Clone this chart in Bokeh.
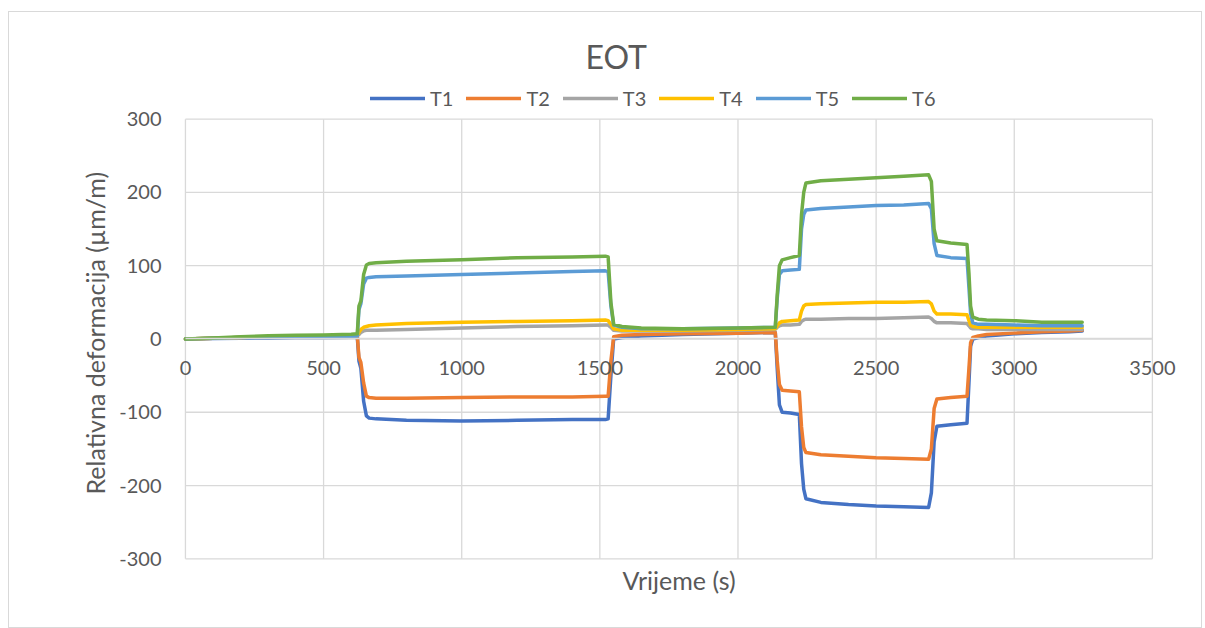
from bokeh.plotting import figure
from bokeh.models import Range1d, FixedTicker, Legend, LegendItem, Title, PrintfTickFormatter
from bokeh.embed import file_html
from bokeh.resources import INLINE

# ---------------- data ----------------
time_s = [0, 100, 200, 300, 400, 500, 600,
          622, 628, 635, 645, 655, 665, 690,
          800, 1000, 1200, 1400, 1520, 1530, 1540, 1550, 1580, 1650, 1800, 2000,
          2135, 2142, 2150, 2160, 2190, 2222, 2230, 2238, 2246,
          2300, 2400, 2500, 2600, 2690, 2700, 2710, 2720, 2770,
          2829, 2836, 2842, 2850, 2870, 2900, 3000, 3100, 3200, 3246]

T1 = [0, 0.5, 1, 1.5, 2, 2, 2.5,
      3, -30, -40, -85, -105, -108, -109,
      -111, -112, -111, -110, -110, -109, -50, 0, 2, 4, 6, 8,
      9, -40, -90, -100, -101, -103, -170, -205, -218,
      -223, -226, -228, -229, -230, -210, -140, -119, -117,
      -115, -60, -10, 0, 2, 4, 7, 9, 10, 11]

T2 = [0, 1, 2, 3, 3.5, 4, 4.5,
      5, -25, -32, -60, -78, -80, -81,
      -81, -80, -79, -79, -78, -78, -30, 3, 5, 6, 7, 8,
      9, -30, -62, -70, -71, -72, -120, -148, -155,
      -158, -160, -162, -163, -164, -150, -95, -82, -80,
      -78, -40, -5, 2, 4, 6, 8, 10, 11, 12]

T3 = [0, 1, 2, 3, 3.5, 4, 4.5,
      5, 6, 9, 11, 12, 12, 12,
      13, 15, 17, 18, 19, 19, 16, 12, 11, 11, 11, 12,
      13, 16, 18, 19, 19, 20, 24, 26, 27,
      27, 28, 28, 29, 30, 28, 24, 22, 22,
      21, 18, 15, 14, 14, 13, 13, 13, 13, 13]

T4 = [0, 1, 2, 3, 3.5, 4, 4.5,
      5, 9, 13, 16, 17, 18, 19,
      21, 23, 24, 25, 26, 25, 20, 14, 12, 12, 12, 13,
      14, 18, 22, 24, 25, 26, 38, 45, 47,
      48, 49, 50, 50, 51, 48, 38, 34, 34,
      33, 25, 19, 17, 16, 16, 16, 16, 16, 16]

T5 = [0, 1, 2, 2.5, 3, 3, 3.5,
      4, 40, 48, 75, 83, 84, 85,
      86, 88, 90, 92, 93, 92, 45, 19, 16, 14, 14, 15,
      16, 55, 88, 93, 94, 95, 150, 170, 176,
      178, 180, 182, 183, 185, 178, 130, 114, 111,
      110, 70, 35, 22, 20, 20, 19, 18, 18, 18]

T6 = [0, 1.5, 3, 4.5, 5, 5.5, 6.5,
      7, 45, 52, 88, 101, 103, 104,
      106, 108, 111, 112, 113, 112, 50, 20, 17, 15, 14, 15,
      16, 60, 100, 108, 111, 114, 170, 200, 213,
      216, 218, 220, 222, 224, 215, 150, 134, 131,
      129, 90, 45, 30, 27, 26, 25, 23, 23, 23]

series_names = ["T1", "T2", "T3", "T4", "T5", "T6"]
series_values = [T1, T2, T3, T4, T5, T6]
series_colors = ["#4472C4", "#ED7D31", "#A5A5A5", "#FFC000", "#5B9BD5", "#70AD47"]

x_ticks = [0, 500, 1000, 1500, 2000, 2500, 3000, 3500]
y_ticks = [-300, -200, -100, 0, 100, 200, 300]

chart_title = "EOT"
x_label = "Vrijeme (s)"
y_label = "Relativna deformacija (µm/m)"

# ---------------- figure ----------------
FONT = "Lato"
TXT = "#595959"
GRID = "#d9d9d9"

x_lo, x_hi = x_ticks[0], x_ticks[-1]
y_lo, y_hi = y_ticks[0], y_ticks[-1]

# the frame is a little larger than the data area, so that the legend and
# the end tick labels of the x axis (which crosses at 0) are not clipped
p = figure(width=1194, height=617, output_backend="svg", toolbar_location=None,
           x_range=Range1d(x_lo - 36, x_hi + 109), y_range=Range1d(y_lo - 5, y_hi + 50),
           min_border_left=166, min_border_right=21,
           min_border_top=70, min_border_bottom=67)
p.styles = {"border": "1px solid #d9d9d9", "margin-left": "8px", "margin-top": "11px"}
p.background_fill_color = "white"
p.border_fill_color = "white"
p.outline_line_color = None
p.xgrid.visible = False
p.ygrid.visible = False

# grid lines limited to the data area
p.segment(x0=x_ticks, x1=x_ticks, y0=[y_lo] * len(x_ticks), y1=[y_hi] * len(x_ticks),
          line_color=GRID, line_width=1.3)
p.segment(x0=[x_lo] * len(y_ticks), x1=[x_hi] * len(y_ticks), y0=y_ticks, y1=y_ticks,
          line_color=GRID, line_width=1.3)

# title
p.title.text = chart_title
p.title.text_font = FONT
p.title.text_font_size = "32px"
p.title.text_font_style = "normal"
p.title.text_color = TXT
p.title.align = "left"
p.title.offset = 410
p.title.standoff = 14

# x axis crossing at 0
xa = p.xaxis[0]
xa.fixed_location = 0
xa.bounds = (x_lo, x_hi)
xa.ticker = FixedTicker(ticks=x_ticks)
xa.axis_line_color = GRID
xa.axis_line_width = 1.3
xa.major_tick_line_color = None
xa.minor_tick_line_color = None
xa.major_label_text_font = FONT
xa.major_label_text_font_size = "20px"
xa.major_label_text_color = TXT
xa.major_label_standoff = 16

ya = p.yaxis[0]
ya.ticker = FixedTicker(ticks=y_ticks)
ya.formatter = PrintfTickFormatter(format="%d")
ya.axis_line_color = None
ya.major_tick_line_color = None
ya.minor_tick_line_color = None
ya.major_label_text_font = FONT
ya.major_label_text_font_size = "20px"
ya.major_label_text_color = TXT
ya.major_label_standoff = 8

# y axis title, centred on the data area rather than on the whole frame
yt = Title(text=y_label, align="left", offset=68, text_font=FONT, text_font_size="25px",
           text_font_style="normal", text_color=TXT, standoff=14)
p.add_layout(yt, "left")

xt = Title(text=x_label, align="center", text_font=FONT, text_font_size="25px",
           text_font_style="normal", text_color=TXT, standoff=0)
p.add_layout(xt, "below")

items = []
for name, vals, col in zip(series_names, series_values, series_colors):
    r = p.line(time_s, vals, line_color=col, line_width=3.5,
               line_join="round", line_cap="round")
    items.append(LegendItem(label=name, renderers=[r]))

legend = Legend(items=items, orientation="horizontal", location=(195, 452),
                glyph_width=55, glyph_height=20, label_standoff=5, spacing=13,
                padding=0, margin=0, label_text_font=FONT, label_height=20,
                label_text_font_size="20px", label_text_color=TXT,
                background_fill_alpha=0, border_line_alpha=0)
p.add_layout(legend, "center")

open("out.html", "w").write(file_html(p, INLINE))
